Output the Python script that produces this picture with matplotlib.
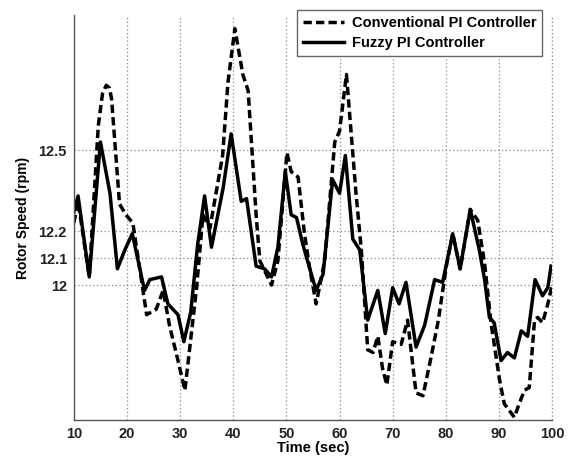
import matplotlib
matplotlib.use("Agg")
from matplotlib import pyplot as plt

# valores (tempo em s, velocidade em rpm)
t_conv = [10, 10.8, 12.9, 14.6, 15.4, 16.1, 16.7, 17.1, 18.6, 19.8, 21.1, 23.7, 25.5, 26.8,
          28.0, 29.6, 30.9, 33.1, 34.3, 35.6, 38.0, 39.0, 40.3, 41.8, 42.8, 44.3, 45.0,
          47.2, 48.4, 50.1, 50.9, 52.2, 53.4, 54.4, 55.6, 57.2, 59.1, 60.0, 61.3, 63.1,
          64.1, 65.3, 66.3, 67.2, 68.1, 68.9, 70.0, 71.6, 72.8, 74.4, 75.7, 77.2, 78.6,
          80.1, 81.3, 82.7, 84.6, 86.0, 87.3, 88.5, 90.1, 91.0, 92.9, 93.8, 94.8, 95.7,
          96.7, 97.3, 98.2, 99.2, 100]
speed_conv = [12.23, 12.31, 12.03, 12.59, 12.71, 12.74, 12.73, 12.69, 12.30, 12.26, 12.23,
              11.89, 11.91, 11.98, 11.85, 11.72, 11.61, 11.99, 12.26, 12.21, 12.48, 12.75,
              12.95, 12.78, 12.72, 12.26, 12.09, 12.00, 12.09, 12.49, 12.42, 12.40, 12.19,
              12.06, 11.93, 12.09, 12.53, 12.57, 12.78, 12.34, 12.13, 11.76, 11.75, 11.81,
              11.69, 11.63, 11.79, 11.78, 11.87, 11.60, 11.59, 11.73, 11.87, 12.07, 12.19,
              12.06, 12.28, 12.24, 12.08, 11.86, 11.65, 11.56, 11.51, 11.56, 11.61, 11.62,
              11.87, 11.88, 11.86, 11.93, 12.00]

t_fuzzy = [10, 10.8, 12.9, 15.0, 16.8, 18.2, 19.6, 21.0, 23.3, 24.3, 26.5, 27.7, 29.6,
           30.7, 32.0, 33.3, 34.6, 35.9, 38.1, 39.6, 41.5, 42.5, 44.3, 45.9, 47.2, 48.4,
           49.8, 50.9, 51.9, 53.1, 54.4, 55.6, 56.9, 58.7, 60.0, 61.1, 62.5, 63.8, 65.3,
           67.2, 68.6, 70.0, 71.2, 72.5, 74.4, 76.0, 77.9, 79.4, 81.3, 82.7, 84.6, 86.3,
           87.3, 88.2, 89.1, 90.4, 91.6, 92.9, 94.2, 95.4, 96.8, 98.2, 99.2, 99.8]
speed_fuzzy = [12.27, 12.33, 12.03, 12.53, 12.34, 12.06, 12.13, 12.19, 11.98, 12.02, 12.03,
               11.93, 11.89, 11.79, 11.90, 12.15, 12.33, 12.14, 12.36, 12.56, 12.31, 12.32,
               12.07, 12.06, 12.03, 12.14, 12.42, 12.26, 12.25, 12.15, 12.06, 11.98, 12.04,
               12.39, 12.34, 12.48, 12.17, 12.13, 11.87, 11.98, 11.82, 11.99, 11.93, 12.01,
               11.77, 11.85, 12.02, 12.01, 12.19, 12.06, 12.28, 12.13, 12.02, 11.88, 11.86,
               11.72, 11.75, 11.73, 11.83, 11.81, 12.02, 11.96, 11.99, 12.07]

x_ticks = [10, 20, 30, 40, 50, 60, 70, 80, 90, 100]
y_ticks = [12, 12.1, 12.2, 12.5]
y_labels = ["12", "12.1", "12.2", "12.5"]

plt.rcParams['font.family'] = ['Liberation Sans', 'DejaVu Sans']
plt.rcParams['font.weight'] = 'bold'

fig = plt.figure(figsize=(5.68, 4.57), dpi=100)
ax = fig.add_axes([0.130, 0.081, 0.842, 0.886])

ax.plot(t_conv, speed_conv, color="black", linewidth=2.5, linestyle=(0, (2.4, 1.2)),
        label="Conventional PI Controller")
ax.plot(t_fuzzy, speed_fuzzy, color="black", linewidth=2.5, label="Fuzzy PI Controller")

ax.set_xlim(10, 100)
ax.set_ylim(11.5, 13.0)
ax.set_xticks(x_ticks)
ax.set_yticks(y_ticks)
ax.set_yticklabels(y_labels)
ax.tick_params(length=0, labelsize=10.5, pad=5)
for lab in ax.get_xticklabels() + ax.get_yticklabels():
    lab.set_fontweight('bold')
    lab.set_color('#222222')

ax.grid(True, linestyle=(0, (1, 2)), color="#888888", linewidth=0.9)
for s in ["top", "right"]:
    ax.spines[s].set_visible(False)
for s in ["left", "bottom"]:
    ax.spines[s].set_color("#555555")
    ax.spines[s].set_linewidth(1.0)
# linha pontilhada em x=100 (borda direita)
ax.axvline(100, linestyle=(0, (1, 2)), color="#888888", linewidth=0.9, clip_on=False)

ax.set_xlabel("Time (sec)", fontsize=10.5, fontweight='bold', labelpad=0)
ax.set_ylabel("Rotor Speed (rpm)", fontsize=10, fontweight='bold', labelpad=6)

leg = ax.legend(loc="upper right", bbox_to_anchor=(542 / 568, 1 - 10 / 457),
                bbox_transform=fig.transFigure, fancybox=False, framealpha=1,
                edgecolor="#666666", prop={'size': 10.5, 'weight': 'bold'},
                handlelength=2.8, handletextpad=0.55, labelspacing=0.45,
                borderpad=0.4, borderaxespad=0)
leg.get_frame().set_linewidth(1.0)

plt.savefig("out.png", dpi=100)
